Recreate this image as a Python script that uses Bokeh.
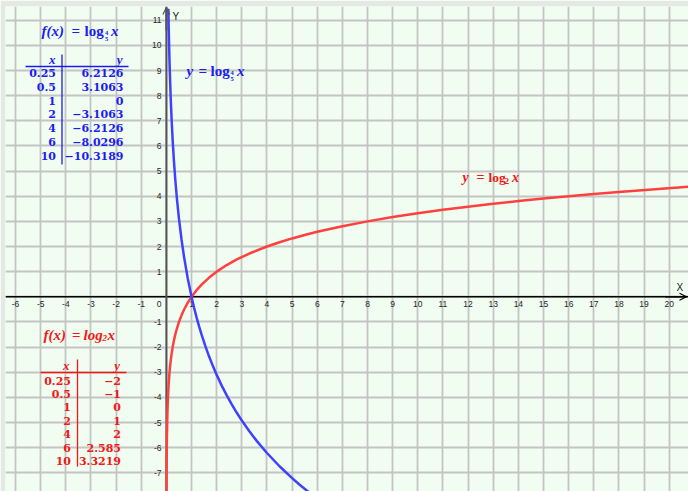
from bokeh.plotting import figure
from bokeh.models import Label, Span, Arrow, OpenHead, Grid, FixedTicker
from bokeh.core.properties import value
from bokeh.embed import file_html
from bokeh.resources import INLINE

# ---------------- data ----------------
red_x = [0.0045, 0.0078, 0.011, 0.0156, 0.022, 0.0313, 0.044, 0.0625, 0.088, 0.1, 0.125,
         0.15, 0.177, 0.21, 0.25, 0.3, 0.35, 0.42, 0.5, 0.6, 0.7, 0.85, 1, 1.2, 1.4, 1.7,
         2, 2.4, 2.8, 3.3, 4, 4.5, 5, 5.5, 6, 7, 8, 9, 10, 11, 12, 13, 14, 15, 17, 18, 21]
red_y = [-7.796, -7.002, -6.506, -6.002, -5.506, -4.998, -4.506, -4.0, -3.506, -3.322, -3.0,
         -2.737, -2.498, -2.252, -2.0, -1.737, -1.515, -1.252, -1.0, -0.737, -0.515, -0.234,
         0.0, 0.263, 0.485, 0.766, 1.0, 1.263, 1.485, 1.722, 2.0, 2.170, 2.322, 2.459, 2.585,
         2.807, 3.0, 3.170, 3.322, 3.459, 3.585, 3.700, 3.807, 3.907, 4.087, 4.170, 4.392]

blue_x = [0.0776, 0.09, 0.1, 0.125, 0.15, 0.177, 0.21, 0.25, 0.3, 0.35, 0.42, 0.5, 0.6,
          0.7, 0.85, 1, 1.1, 1.2, 1.3, 1.4, 1.55, 1.7, 1.85, 2, 2.2, 2.4, 2.6, 2.8, 3, 3.3,
          3.6, 4, 4.5, 5, 5.3, 5.7]
blue_y = [11.456, 10.791, 10.319, 9.319, 8.502, 7.760, 6.994, 6.213, 5.396, 4.705, 3.888,
          3.106, 2.289, 1.599, 0.728, 0.0, -0.427, -0.817, -1.176, -1.508, -1.964, -2.378,
          -2.757, -3.106, -3.533, -3.923, -4.282, -4.614, -4.923, -5.350, -5.741, -6.213,
          -6.740, -7.213, -7.474, -7.800]

table_x = ["0.25", "0.5", "1", "2", "4", "6", "10"]
blue_table_y = ["6.2126", "3.1063", "0", "\u22123.1063", "\u22126.2126", "\u22128.0296", "\u221210.3189"]
red_table_y = ["\u22122", "\u22121", "0", "1", "2", "2.585", "3.3219"]

x_ticks = [t for t in range(-6, 21) if t != 0]
y_ticks = [t for t in range(-7, 12) if t != 0]

# ---------------- layout helpers (reference pixel -> data) ----------------
X0, Y0, U = 165.9, 296.3, 25.14


def dx(px):
    return (px - X0) / U


def dy(py):
    return (Y0 - py) / U


W, H = 688, 491
BL, BT = 5, 6
BLUE = "#4040ff"
RED = "#ff4040"
BLUE_T = "#1c1cf0"
RED_T = "#f01818"
GRID = "#c4c4c4"

p = figure(width=W, height=H,
           x_range=(dx(BL), dx(W)), y_range=(dy(H), dy(BT)),
           output_backend="svg", toolbar_location=None,
           x_axis_location=None, y_axis_location=None,
           min_border=0, min_border_left=BL, min_border_top=BT,
           background_fill_color="#f0fdf0", border_fill_color="#e3eae3",
           outline_line_color=None)
p.center = []

gx = Grid(dimension=0, ticker=FixedTicker(ticks=list(range(-10, 25))),
          grid_line_color=GRID, grid_line_width=1.8)
gy = Grid(dimension=1, ticker=FixedTicker(ticks=list(range(-10, 15))),
          grid_line_color=GRID, grid_line_width=1.8)
p.add_layout(gx)
p.add_layout(gy)

p.add_layout(Span(location=0, dimension="width", line_color="black", line_width=1.5, level="underlay"))
p.add_layout(Span(location=0, dimension="height", line_color="#555555", line_width=2, level="underlay"))
p.add_layout(Arrow(end=OpenHead(size=7, line_color="black", line_width=1.2),
                   x_start=dx(665), y_start=0, x_end=dx(686), y_end=0,
                   line_color="black", line_width=1.5))
p.add_layout(Arrow(end=OpenHead(size=7, line_color="#555555", line_width=1.2),
                   x_start=0, y_start=dy(30), x_end=0, y_end=dy(7),
                   line_color="#555555", line_width=2))

# tick labels
tick_font = value("Liberation Sans")
TICK_SIZE = "8.5px"
TICK_COL = "#262626"
p.text(x=x_ticks, y=[dy(303.5)] * len(x_ticks), text=[str(t) for t in x_ticks],
       text_font=tick_font, text_font_size=TICK_SIZE, text_color=TICK_COL,
       text_align="center", text_baseline="middle")
p.text(x=[dx(161)] * len(y_ticks), y=y_ticks, text=[str(t) for t in y_ticks],
       text_font=tick_font, text_font_size=TICK_SIZE, text_color=TICK_COL,
       text_align="right", text_baseline="middle")
p.text(x=[dx(161)], y=[dy(303.5)], text=["0"],
       text_font=tick_font, text_font_size=TICK_SIZE, text_color=TICK_COL,
       text_align="right", text_baseline="middle")

# curves
p.line(red_x, red_y, line_color=RED, line_width=2.5)
p.line(blue_x, blue_y, line_color=BLUE, line_width=2.5)


def lab(text, px, py, color, size, style="bold", font="Liberation Serif", align="left"):
    p.add_layout(Label(x=dx(px), y=dy(py), text=text, text_color=color,
                       text_font_size=f"{size}px", text_font_style=style,
                       text_font=font, text_align=align, text_baseline="middle"))


SER = "Liberation Serif"
TSER = "DejaVu Serif"

# axis names
lab("Y", 172, 16, "#202020", 10, style="normal", font="Liberation Sans")
lab("X", 676, 287, "#202020", 10, style="normal", font="Liberation Sans")

# ---- blue title f(x) = log_{4/5} x ----
lab("f(x)", 41, 30, BLUE_T, 15, style="bold italic")
lab("=", 71, 30, BLUE_T, 15)
lab("log", 84, 30, BLUE_T, 15)
lab("4", 104.5, 32.5, BLUE_T, 6.5)
lab("5", 104.5, 38, BLUE_T, 6.5)
lab("x", 110.5, 30, BLUE_T, 15, style="bold italic")

# ---- blue table ----
b_rows = [72.8 + 13.7 * i for i in range(len(table_x))]
lab("x", 55, 59, BLUE_T, 13, style="bold italic", align="right")
lab("y", 122, 59, BLUE_T, 13, style="bold italic", align="right")
p.segment(x0=[dx(25)], y0=[dy(66)], x1=[dx(128)], y1=[dy(66)], line_color=BLUE_T, line_width=1.3)
p.segment(x0=[dx(61.5)], y0=[dy(54)], x1=[dx(61.5)], y1=[dy(164)], line_color=BLUE_T, line_width=1.3)
p.text(x=[dx(55.5)] * len(table_x), y=[dy(r) for r in b_rows], text=table_x,
       text_font=value(TSER), text_font_style="bold", text_font_size="11px",
       text_color=BLUE_T, text_align="right", text_baseline="middle")
p.text(x=[dx(123)] * len(table_x), y=[dy(r) for r in b_rows], text=blue_table_y,
       text_font=value(TSER), text_font_style="bold", text_font_size="11px",
       text_color=BLUE_T, text_align="right", text_baseline="middle")

# ---- blue curve label y = log_{4/5} x ----
lab("y", 186, 70, BLUE_T, 15, style="bold italic")
lab("=", 198, 70, BLUE_T, 15)
lab("log", 210, 70, BLUE_T, 15)
lab("4", 230, 72.5, BLUE_T, 6.5)
lab("5", 230, 78, BLUE_T, 6.5)
lab("x", 236.5, 70, BLUE_T, 15, style="bold italic")

# ---- red curve label y = log_2 x ----
lab("y", 462, 177, RED_T, 14, style="bold italic")
lab("=", 476, 177, RED_T, 14)
lab("log", 488, 177, RED_T, 13.5)
lab("2", 504, 180.5, RED_T, 9)
lab("x", 511.5, 177, RED_T, 14, style="bold italic")

# ---- red title f(x) = log_2 x ----
lab("f(x)", 43, 334, RED_T, 15, style="bold italic")
lab("=", 71.5, 334, RED_T, 15)
lab("log", 83, 334, RED_T, 15, style="bold italic")
lab("2", 102, 337.5, RED_T, 9, style="bold italic")
lab("x", 107, 334, RED_T, 15, style="bold italic")

# ---- red table ----
r_rows = [380 + 13.4 * i for i in range(len(table_x))]
lab("x", 69, 365, RED_T, 13, style="bold italic", align="right")
lab("y", 119.5, 365, RED_T, 13, style="bold italic", align="right")
p.segment(x0=[dx(40)], y0=[dy(372)], x1=[dx(126)], y1=[dy(372)], line_color=RED_T, line_width=1.3)
p.segment(x0=[dx(77)], y0=[dy(359)], x1=[dx(77)], y1=[dy(466)], line_color=RED_T, line_width=1.3)
p.text(x=[dx(70.5)] * len(table_x), y=[dy(r) for r in r_rows], text=table_x,
       text_font=value(TSER), text_font_style="bold", text_font_size="11px",
       text_color=RED_T, text_align="right", text_baseline="middle")
p.text(x=[dx(120.5)] * len(table_x), y=[dy(r) for r in r_rows], text=red_table_y,
       text_font=value(TSER), text_font_style="bold", text_font_size="11px",
       text_color=RED_T, text_align="right", text_baseline="middle")

open("out.html", "w").write(file_html(p, INLINE))
